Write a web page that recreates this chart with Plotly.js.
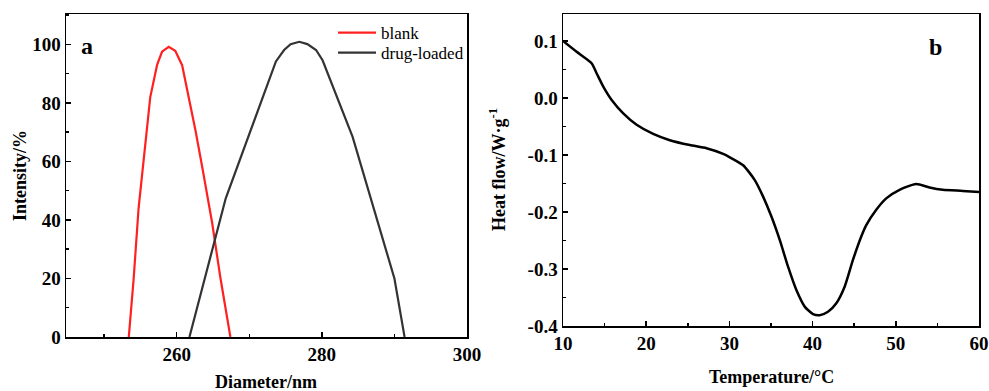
<!DOCTYPE html>
<html>
<head>
<meta charset="utf-8">
<script src="https://cdn.plot.ly/plotly-3.0.1.min.js"></script>
<style>html,body{margin:0;padding:0;background:#fff;}#chart{width:989px;height:391px;}</style>
</head>
<body>
<div id="chart"></div>
<script>
// Panel a: particle size distribution
const blankDiameter = [253.4, 254.06, 254.75, 255.67, 256.36, 257.3, 257.98, 258.9, 259.8, 260.75, 261.66, 262.6, 263.6, 264.9, 266.0, 267.4];
const blankIntensity = [0, 19.5, 44, 67, 82, 93, 97.5, 99.2, 97.8, 92.9, 82.4, 70.5, 57, 38.8, 20.6, 0];
const drugDiameter = [261.76, 266.76, 273.67, 274.8, 275.7, 276.9, 278.0, 279.2, 280.1, 284.24, 290.0, 291.4];
const drugIntensity = [0, 47.4, 94.2, 98.1, 100.1, 100.9, 100.1, 98.1, 94.6, 68.4, 20.0, 0];

// Panel b: DSC curve
const temperature = [10, 11.64, 13.44, 14.05, 14.84, 15.85, 17.24, 18.85, 20.84, 22.84, 25.25, 27.25, 29.25, 30.05, 31.65, 33.05, 34.05, 35.05, 36.05, 37.05, 38.05, 39.05, 40.05, 40.85, 41.85, 42.85, 43.85, 44.85, 45.85, 46.45, 47.65, 48.85, 50.45, 52.45, 54.05, 55.65, 58.05, 60];
const heatFlow = [0.1, 0.081, 0.061, 0.043, 0.020, -0.0035, -0.027, -0.047, -0.063, -0.074, -0.0825, -0.088, -0.098, -0.104, -0.118, -0.144, -0.173, -0.208, -0.249, -0.296, -0.337, -0.366, -0.379, -0.381, -0.375, -0.360, -0.331, -0.284, -0.243, -0.223, -0.196, -0.176, -0.161, -0.151, -0.157, -0.161, -0.163, -0.165];

const xTicksA = [260, 280, 300];
const xTickTextA = ['260', '280', '300'];
const yTicksA = [0, 20, 40, 60, 80, 100];
const yTickTextA = ['0', '20', '40', '60', '80', '100'];
const xTicksB = [10, 20, 30, 40, 50, 60];
const xTickTextB = ['10', '20', '30', '40', '50', '60'];
const yTicksB = [0.1, 0.0, -0.1, -0.2, -0.3, -0.4];
const yTickTextB = ['0.1', '0.0', '-0.1', '-0.2', '-0.3', '-0.4'];

const W = 989, H = 391;
const px = v => v / W;
const py = v => 1 - v / H;
const bold = arr => arr.map(s => '<b>' + s + '</b>');
const serif = 'Liberation Serif, Times New Roman, serif';
const tickFont = {family: serif, size: 19, color: '#000'};

const axisCommon = {
  showgrid: false, zeroline: false, showline: true, linecolor: '#000', linewidth: 1.5,
  mirror: true, ticks: 'inside', ticklen: 5, tickwidth: 1.5, tickcolor: '#000',
  tickfont: tickFont, fixedrange: true
};

const legendCommon = {xanchor: 'left', yanchor: 'top', bgcolor: 'rgba(0,0,0,0)', itemwidth: 38,
  font: {family: serif, size: 17, color: '#000'}};

const traces = [
  {x: blankDiameter, y: blankIntensity, type: 'scatter', mode: 'lines', name: 'blank',
   line: {color: '#ff2020', width: 2.2}, xaxis: 'x', yaxis: 'y', legend: 'legend'},
  {x: drugDiameter, y: drugIntensity, type: 'scatter', mode: 'lines', name: 'drug-loaded',
   line: {color: '#333333', width: 2.2}, xaxis: 'x', yaxis: 'y', legend: 'legend2'},
  {x: temperature, y: heatFlow, type: 'scatter', mode: 'lines', name: 'DSC', showlegend: false,
   line: {color: '#000', width: 2.5, shape: 'spline', smoothing: 0.6}, xaxis: 'x2', yaxis: 'y2'}
];

const layout = {
  width: W, height: H,
  margin: {l: 0, r: 0, t: 0, b: 0},
  paper_bgcolor: '#fff', plot_bgcolor: '#fff',
  showlegend: true,
  legend: Object.assign({}, legendCommon, {x: px(333), y: py(15)}),
  legend2: Object.assign({}, legendCommon, {x: px(333), y: py(35)}),
  xaxis: Object.assign({}, axisCommon, {domain: [px(66), px(467)], range: [244.75, 300],
          tickvals: xTicksA, ticktext: bold(xTickTextA), anchor: 'y',
          minor: {dtick: 10, tick0: 250, ticks: 'inside', ticklen: 3, tickwidth: 1.5, tickcolor: '#000'}}),
  yaxis: Object.assign({}, axisCommon, {domain: [py(337), py(14)], range: [0, 110.4],
          tickvals: yTicksA, ticktext: bold(yTickTextA), anchor: 'x',
          minor: {dtick: 10, tick0: 0, ticks: 'inside', ticklen: 3, tickwidth: 1.5, tickcolor: '#000'}}),
  xaxis2: Object.assign({}, axisCommon, {domain: [px(563), px(979)], range: [10, 60],
          tickvals: xTicksB, ticktext: bold(xTickTextB), anchor: 'y2',
          minor: {dtick: 5, tick0: 0, ticks: 'inside', ticklen: 3, tickwidth: 1.5, tickcolor: '#000'}}),
  yaxis2: Object.assign({}, axisCommon, {domain: [py(326), py(14)], range: [-0.4, 0.1474],
          tickvals: yTicksB, ticktext: bold(yTickTextB), anchor: 'x2',
          minor: {dtick: 0.05, tick0: 0, ticks: 'inside', ticklen: 3, tickwidth: 1.5, tickcolor: '#000'}}),
  annotations: [
    {text: '<b>Intensity/%</b>', xref: 'paper', yref: 'paper', x: px(20), y: py(176), textangle: -90,
     showarrow: false, font: {family: serif, size: 18, color: '#000'}, xanchor: 'center', yanchor: 'middle'},
    {text: '<b>Diameter/nm</b>', xref: 'paper', yref: 'paper', x: px(266), y: py(382),
     showarrow: false, font: {family: serif, size: 18, color: '#000'}, xanchor: 'center', yanchor: 'middle'},
    {text: '<b>Heat flow/W·g<sup>-1</sup></b>', xref: 'paper', yref: 'paper', x: px(498), y: py(170), textangle: -90,
     showarrow: false, font: {family: serif, size: 18, color: '#000'}, xanchor: 'center', yanchor: 'middle'},
    {text: '<b>Temperature/°C</b>', xref: 'paper', yref: 'paper', x: px(771), y: py(377),
     showarrow: false, font: {family: serif, size: 18, color: '#000'}, xanchor: 'center', yanchor: 'middle'},
    {text: '<b>a</b>', xref: 'paper', yref: 'paper', x: px(87), y: py(46),
     showarrow: false, font: {family: serif, size: 24, color: '#000'}, xanchor: 'center', yanchor: 'middle'},
    {text: '<b>b</b>', xref: 'paper', yref: 'paper', x: px(935), y: py(47),
     showarrow: false, font: {family: serif, size: 24, color: '#000'}, xanchor: 'center', yanchor: 'middle'}
  ]
};

Plotly.newPlot('chart', traces, layout, {displayModeBar: false, staticPlot: true});
</script>
</body>
</html>
